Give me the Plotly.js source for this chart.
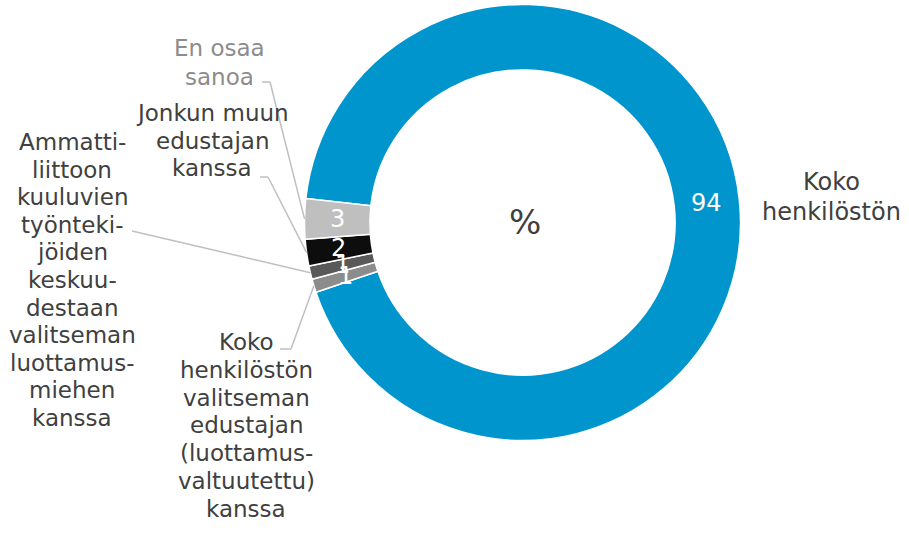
<!DOCTYPE html>
<html>
<head>
<meta charset="utf-8">
<script src="https://cdn.plot.ly/plotly-3.0.1.min.js"></script>
<style>html,body{margin:0;padding:0;background:#fff;}#chart{width:909px;height:554px;}</style>
</head>
<body>
<div id="chart"></div>
<script>
// ---- data ----
const categories = [
  'Koko henkilöstön',
  'Koko henkilöstön valitseman edustajan (luottamusvaltuutettu) kanssa',
  'Ammattiliittoon kuuluvien työntekijöiden keskuudestaan valitseman luottamusmiehen kanssa',
  'Jonkun muun edustajan kanssa',
  'En osaa sanoa'
];
const values = [94, 1, 1, 2, 3];
const sliceColors = ['#0096CD', '#8C8C8C', '#595959', '#0D0D0D', '#BFBFBF'];
const labelLines = [
  ['Koko', 'henkilöstön'],
  ['Koko', 'henkilöstön', 'valitseman', 'edustajan', '(luottamus-', 'valtuutettu)', 'kanssa'],
  ['Ammatti-', 'liittoon', 'kuuluvien', 'työnteki-', 'jöiden', 'keskuu-', 'destaan', 'valitseman', 'luottamus-', 'miehen', 'kanssa'],
  ['Jonkun muun', 'edustajan', 'kanssa'],
  ['En osaa', 'sanoa']
];
const centerText = '%';

// ---- layout geometry ----
const W = 909, H = 554;
const cx = 522.5, cy = 222.5, R = 218, HOLE = 0.7;
const ROT = 276.3;
const FONT = 'DejaVu Sans, Verdana, sans-serif';
const px = x => x / W;
const py = y => 1 - y / H;

// label placement: [xCenter, yFirstLine, lineSpacing, fontSize, color]
const labelPos = [
  [831, 182, 30, 24, '#404040'],
  [246, 342, 27.8, 23, '#404040'],
  [72, 142, 27.6, 23, '#404040'],
  [212, 113, 27.5, 23, '#404040'],
  [219, 48, 29, 23, '#8C8C8C']
];
// leader line start points (text side), then the line runs to the slice edge
const leaderStarts = [
  null,
  [[280, 349], [291, 349]],
  [[132, 231]],
  [[260, 177], [268, 177]],
  [[262, 82], [270, 82]]
];

const total = values.reduce((a, b) => a + b, 0);
const annotations = [];
const shapes = [];
const rMid = R * (1 + HOLE) / 2;
let cum = 0;
values.forEach((v, i) => {
  const mid = (ROT + (cum + v / 2) / total * 360) * Math.PI / 180;
  cum += v;
  // value label inside the ring
  annotations.push({
    text: String(v), x: px(cx + rMid * Math.sin(mid)), y: py(cy - rMid * Math.cos(mid)),
    xref: 'paper', yref: 'paper', xanchor: 'center', yanchor: 'middle', showarrow: false,
    font: {family: FONT, size: 24, color: '#FFFFFF'}
  });
  const ex = cx + R * Math.sin(mid), ey = cy - R * Math.cos(mid);
  const [lx, ly, sp, fs, col] = labelPos[i];
  labelLines[i].forEach((t, k) => {
    annotations.push({
      text: t, x: px(lx), y: py(ly + k * sp), xref: 'paper', yref: 'paper',
      xanchor: 'center', yanchor: 'middle', showarrow: false,
      font: {family: FONT, size: fs, color: col}
    });
  });
  const st = leaderStarts[i];
  if (st) {
    const pts = st.concat([[ex, ey]]);
    for (let k = 0; k < pts.length - 1; k++) {
      shapes.push({type: 'line', xref: 'paper', yref: 'paper',
        x0: px(pts[k][0]), y0: py(pts[k][1]), x1: px(pts[k + 1][0]), y1: py(pts[k + 1][1]),
        line: {color: '#BFBFBF', width: 1.5}});
    }
  }
});
annotations.push({
  text: centerText, x: px(525), y: py(222), xref: 'paper', yref: 'paper',
  xanchor: 'center', yanchor: 'middle', showarrow: false,
  font: {family: FONT, size: 34, color: '#404040'}
});

const trace = {
  type: 'pie',
  labels: categories,
  values: values,
  sort: false,
  direction: 'clockwise',
  rotation: ROT,
  hole: HOLE,
  marker: {colors: sliceColors, line: {color: '#FFFFFF', width: 1.5}},
  textinfo: 'none',
  domain: {x: [(cx - R) / W, (cx + R) / W], y: [1 - (cy + R) / H, 1 - (cy - R) / H]},
  hoverinfo: 'none'
};

const layout = {
  width: W, height: H,
  margin: {l: 0, r: 0, t: 0, b: 0},
  paper_bgcolor: '#FFFFFF',
  showlegend: false,
  annotations: annotations,
  shapes: shapes
};

Plotly.newPlot('chart', [trace], layout, {displayModeBar: false, staticPlot: true});
</script>
</body>
</html>
